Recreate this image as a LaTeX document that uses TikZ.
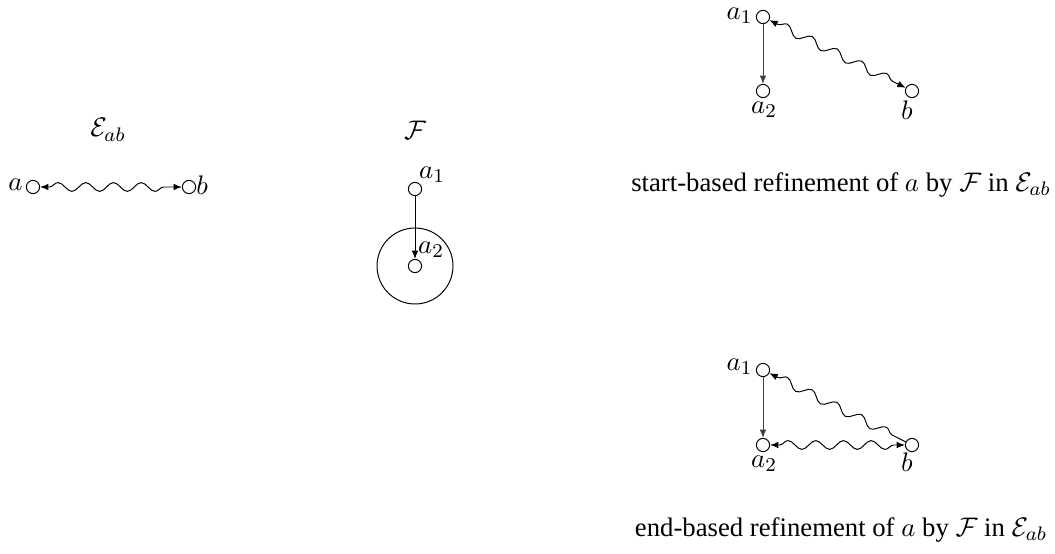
\documentclass[tikz,border=0pt]{standalone}
\usepackage{fontspec}
\setmainfont{Liberation Serif}
\usetikzlibrary{decorations.pathmorphing,arrows.meta}
\begin{document}
\begin{tikzpicture}[x=0.408pt,y=-0.408pt,
  vtx/.style={circle,draw,inner sep=0pt,minimum size=5.4pt,line width=0.4pt},
  lbl/.style={inner sep=0pt},
  tip/.style={-{Latex[length=3.4pt,width=2.7pt]}},
  dtip/.style={{Latex[length=3.4pt,width=2.7pt]}-{Latex[length=3.4pt,width=2.7pt]}},
  wavy/.style={decorate,decoration={snake,segment length=11.3pt,amplitude=1.8pt,pre length=3.8pt,post length=3.8pt}},
  straight/.style={draw=black!75},
  font=\fontsize{10.9}{13}\selectfont]
\useasboundingbox (0,0) rectangle (1055,554);
% E_ab
\node[lbl] (tE) at (108,130) {$\mathcal{E}_{ab}$};
\node[vtx] (a) at (33,187) {};
\node[vtx] (b) at (189,187) {};
\node[lbl,anchor=east] (la) at (23,185) {$a$};
\node[lbl,anchor=west] (lb) at (196,185) {$b$};
\draw[dtip,wavy] (a) -- (b);
% F
\node[lbl] (tF) at (415,130) {$\mathcal{F}$};
\node[vtx] (f1) at (415,189) {};
\node[vtx] (f2) at (415,266) {};
\node[lbl] (lf1) at (432,175) {$a_1$};
\node[lbl] (lf2) at (431,250) {$a_2$};
\node[circle,draw,minimum size=31pt,inner sep=0pt] (big) at (415,266) {};
\draw[tip] (f1) -- (f2);
% start-based
\node[vtx] (s1) at (763,17) {};
\node[vtx] (s2) at (763,91) {};
\node[vtx] (sb) at (912,91) {};
\node[lbl,anchor=east] (ls1) at (753,16) {$a_1$};
\node[lbl] (ls2) at (764,110) {$a_2$};
\node[lbl] (lsb) at (907,110) {$b$};
\draw[tip,straight] (s1) -- (s2);
\draw[dtip,wavy] (s1) -- (sb);
\node[lbl] (cs) at (841,185) {start-based refinement of $a$ by $\mathcal{F}$ in $\mathcal{E}_{ab}$};
% end-based
\node[vtx] (e1) at (763,370) {};
\node[vtx] (e2) at (763,445) {};
\node[vtx] (eb) at (912,445) {};
\node[lbl,anchor=east] (le1) at (753,367) {$a_1$};
\node[lbl] (le2) at (764,464) {$a_2$};
\node[lbl] (leb) at (907,462) {$b$};
\draw[tip,straight] (e1) -- (e2);
\draw[{Latex[length=3.4pt,width=2.7pt]}-,wavy] (e1) -- (eb);
\draw[dtip,wavy] (e2) -- (eb);
\node[lbl] (ce) at (841,530) {end-based refinement of $a$ by $\mathcal{F}$ in $\mathcal{E}_{ab}$};
\end{tikzpicture}
\end{document}
